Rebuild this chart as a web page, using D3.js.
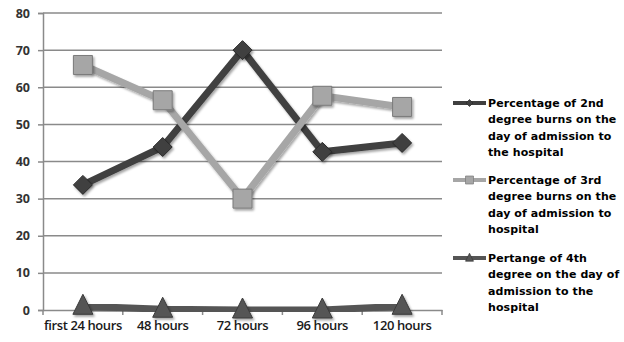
<!DOCTYPE html>
<html><head><meta charset="utf-8">
<script src="https://cdn.jsdelivr.net/npm/d3@7"></script>
<style>body{margin:0;background:#fff}svg{display:block}</style>
</head><body>
<script>
const categories = ["first 24 hours","48 hours","72 hours","96 hours","120 hours"];
const second = [33.7, 43.9, 70, 42.6, 45];
const third = [66, 56.5, 30, 57.7, 54.7];
const fourth = [1, 0.2, 0, 0, 1];
const yTicks = [0,10,20,30,40,50,60,70,80];
const legendLabels = [
  ["Percentage of 2nd","degree burns on the","day of admission to","the hospital"],
  ["Percentage of 3rd","degree burns on the","day of admission to","hospital"],
  ["Pertange of 4th","degree on the day of","admission to the","hospital"]
];

const W=624,H=342;
const svg=d3.select("body").append("svg").attr("width",W).attr("height",H);
const defs=svg.append("defs");
const f=defs.append("filter").attr("id","sh").attr("x","-50%").attr("y","-50%").attr("width","200%").attr("height","200%");
f.append("feDropShadow").attr("dx",1.5).attr("dy",2).attr("stdDeviation",1.2).attr("flood-color","#000").attr("flood-opacity",0.35);

const x=d3.scaleBand().domain(categories).range([43,442]);
const y=d3.scaleLinear().domain([0,80]).range([310,13]);

svg.append("g").selectAll("line").data(yTicks.filter(d=>d>0)).join("line")
  .attr("x1",43).attr("x2",442).attr("y1",d=>y(d)).attr("y2",d=>y(d))
  .attr("stroke","#8a8a8a").attr("stroke-width",1.5);

const ya=svg.append("g").attr("transform","translate(43,0)")
  .call(d3.axisLeft(y).tickValues(yTicks).tickSize(5).tickPadding(8));
ya.select(".domain").attr("stroke","#8a8a8a").attr("stroke-width",1.5);
ya.selectAll(".tick line").attr("stroke","#8a8a8a").attr("stroke-width",1.5);
ya.selectAll("text").attr("font-family","Open Sans, sans-serif").attr("font-size",12.5).attr("font-weight",700).attr("fill","#333");

const xa=svg.append("g").attr("transform","translate(0,310)")
  .call(d3.axisBottom(x).tickSize(0).tickPadding(11));
xa.select(".domain").attr("stroke","#8a8a8a").attr("stroke-width",1.5);
xa.selectAll("text").attr("font-family","Open Sans, sans-serif").attr("font-size",13).attr("font-weight",600).attr("fill","#1a1a1a").attr("letter-spacing","-0.4");
const bounds=categories.map(c=>x(c)).concat([x.range()[1]]);
svg.append("g").selectAll("line").data(bounds).join("line")
  .attr("x1",d=>d).attr("x2",d=>d).attr("y1",310).attr("y2",315)
  .attr("stroke","#8a8a8a").attr("stroke-width",1.5);

const cx=c=>x(c)+x.bandwidth()/2;
const series=[
  {vals:second,color:"#3f3f3f",mark:"diamond",stroke:"#2a2a2a"},
  {vals:third,color:"#a6a6a6",mark:"square",stroke:"#7a7a7a"},
  {vals:fourth,color:"#555555",mark:"triangle",stroke:"#3a3a3a"}
];
const line=d3.line().x((d,i)=>cx(categories[i])).y(d=>y(d));
function markPath(type,s){
  if(type==="diamond") return `M0,${-s}L${s},0L0,${s}L${-s},0Z`;
  if(type==="square") return `M${-s},${-s}H${s}V${s}H${-s}Z`;
  return `M0,${-s*1.2}L${s},${s*0.8}L${-s},${s*0.8}Z`;
}
const msize={diamond:9.5,square:9.5,triangle:10};
[2,0,1].forEach(k=>{
  const s=series[k];
  svg.append("path").datum(s.vals).attr("d",line).attr("fill","none")
    .attr("stroke",s.color).attr("stroke-width",7).attr("stroke-linejoin","miter")
    .attr("filter","url(#sh)");
});
[2,0,1].forEach(k=>{
  const s=series[k];
  svg.append("g").selectAll("path").data(s.vals).join("path")
    .attr("transform",(d,i)=>`translate(${cx(categories[i])},${y(d)})`)
    .attr("d",markPath(s.mark,msize[s.mark]))
    .attr("fill",s.color).attr("stroke",s.stroke).attr("stroke-width",1)
    .attr("filter","url(#sh)");
});

const lg=svg.append("g");
const lx0=453,lx1=486,ty0=[103,180,258];
series.forEach((s,k)=>{
  const yy=ty0[k];
  lg.append("line").attr("x1",lx0).attr("x2",lx1).attr("y1",yy).attr("y2",yy)
    .attr("stroke",s.color).attr("stroke-width",4);
  const sm={diamond:3.5,square:4,triangle:4}[s.mark];
  lg.append("path").attr("transform",`translate(${(lx0+lx1)/2},${yy})`)
    .attr("d",markPath(s.mark,sm)).attr("fill",s.color).attr("stroke",s.stroke).attr("stroke-width",0.7);
  legendLabels[k].forEach((t,j)=>{
    lg.append("text").attr("x",488).attr("y",yy+4+j*16.3).text(t)
      .attr("font-family","DejaVu Sans, sans-serif").attr("font-weight","bold")
      .attr("font-size",11).attr("fill","#000").attr("letter-spacing","0.1");
  });
});
</script>
</body></html>
